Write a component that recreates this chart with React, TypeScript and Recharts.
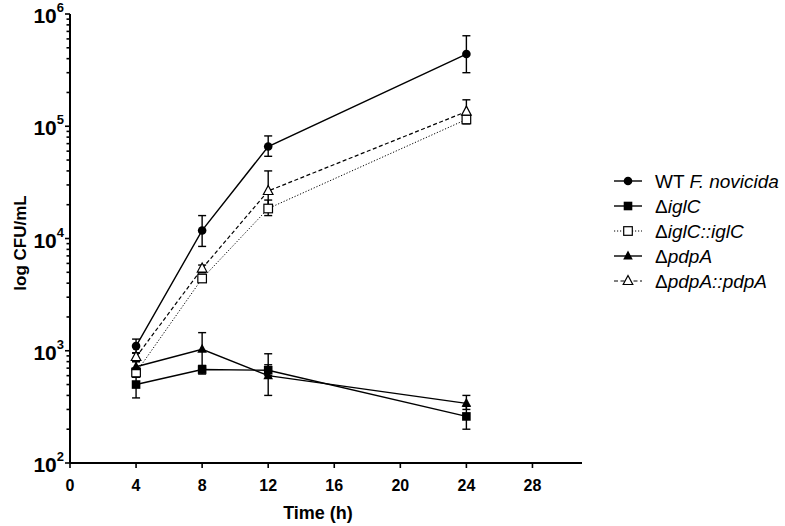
import React from "react";
import { LineChart, Line, XAxis, YAxis, ErrorBar, Legend, Label } from "recharts";

// sampling times (h)
const hours = [4, 8, 12, 24];

// WT F. novicida
const wt = [1100, 11800, 66000, 440000];
const wtLow = [950, 8500, 54000, 300000];
const wtHigh = [1270, 16000, 82000, 640000];

// ΔiglC
const iglC = [500, 680, 670, 260];
const iglCLow = [380, 620, 600, 200];
const iglCHigh = [600, 740, 750, 320];

// ΔiglC::iglC
const iglCComp = [640, 4400, 18500, 115000];
const iglCCompLow = [580, 4100, 16000, 105000];
const iglCCompHigh = [700, 4800, 22000, 125000];

// ΔpdpA
const pdpA = [720, 1030, 600, 340];
const pdpALow = [650, 700, 400, 300];
const pdpAHigh = [800, 1450, 940, 400];

// ΔpdpA::pdpA
const pdpAComp = [880, 5400, 26500, 135000];
const pdpACompLow = [800, 5000, 20000, 115000];
const pdpACompHigh = [960, 5800, 40000, 172000];

const xTicks = [0, 4, 8, 12, 16, 20, 24, 28];
const yMajor = [100, 1000, 10000, 100000, 1000000];
const yTicks = yMajor.flatMap((d, i) =>
  i === yMajor.length - 1 ? [d] : [1, 2, 3, 4, 5, 6, 7, 8, 9].map((m) => d * m)
);

const FONT = "Arial, 'Liberation Sans', Helvetica, sans-serif";
const LEGEND_W = 175;

const err = (v: number[], lo: number[], hi: number[], i: number) => [v[i] - lo[i], hi[i] - v[i]];

const rows = hours.map((h, i) => ({
  h,
  wt: wt[i],
  wtErr: err(wt, wtLow, wtHigh, i),
  iglC: iglC[i],
  iglCErr: err(iglC, iglCLow, iglCHigh, i),
  iglCComp: iglCComp[i],
  iglCCompErr: err(iglCComp, iglCCompLow, iglCCompHigh, i),
  pdpA: pdpA[i],
  pdpAErr: err(pdpA, pdpALow, pdpAHigh, i),
  pdpAComp: pdpAComp[i],
  pdpACompErr: err(pdpAComp, pdpACompLow, pdpACompHigh, i),
}));

type Marker = "circle" | "square" | "openSquare" | "triangle" | "openTriangle";

function markerShape(kind: Marker, cx: number, cy: number, key?: string) {
  switch (kind) {
    case "circle":
      return <circle key={key} cx={cx} cy={cy} r={4.3} fill="#000" />;
    case "square":
      return <rect key={key} x={cx - 4.3} y={cy - 4.3} width={8.6} height={8.6} fill="#000" />;
    case "openSquare":
      return (
        <rect key={key} x={cx - 4.3} y={cy - 4.3} width={8.6} height={8.6} fill="#fff" stroke="#000" strokeWidth={1.2} />
      );
    case "triangle":
      return (
        <path key={key} d={`M${cx},${cy - 5.5}L${cx + 4.8},${cy + 3.5}L${cx - 4.8},${cy + 3.5}Z`} fill="#000" />
      );
    case "openTriangle":
      return (
        <path
          key={key}
          d={`M${cx},${cy - 5.5}L${cx + 4.8},${cy + 3.5}L${cx - 4.8},${cy + 3.5}Z`}
          fill="#fff"
          stroke="#000"
          strokeWidth={1.2}
        />
      );
  }
}

const dotFor = (kind: Marker) => (props: any) =>
  markerShape(kind, props.cx, props.cy, `${kind}-${props.index}`);

function YTick(props: any) {
  const { x, y, payload } = props;
  const v = payload.value as number;
  const lg = Math.log10(v);
  const exp = Math.round(lg);
  const major = Math.abs(lg - exp) < 1e-6;
  return (
    <g>
      <line x1={x - (major ? 5 : 3.5)} x2={x} y1={y} y2={y} stroke="#000" strokeWidth={1.6} />
      {major && (
        <text x={x - 6} y={y + 9} textAnchor="end" fontFamily={FONT} fontWeight="bold" fontSize={21} fill="#000">
          10
          <tspan dy={-11} fontSize={13}>
            {exp}
          </tspan>
        </text>
      )}
    </g>
  );
}

function XTick(props: any) {
  const { x, y, payload } = props;
  return (
    <g>
      <line x1={x} x2={x} y1={y} y2={y + 5} stroke="#000" strokeWidth={1.6} />
      <text x={x} y={y + 28} textAnchor="middle" fontFamily={FONT} fontWeight="bold" fontSize={16} fill="#000">
        {payload.value}
      </text>
    </g>
  );
}

const legendItems: { plain: string; italic: string; marker: Marker; dash?: string }[] = [
  { plain: "WT ", italic: "F. novicida", marker: "circle" },
  { plain: "Δ", italic: "iglC", marker: "square" },
  { plain: "Δ", italic: "iglC::iglC", marker: "openSquare", dash: "1.2 1.8" },
  { plain: "Δ", italic: "pdpA", marker: "triangle" },
  { plain: "Δ", italic: "pdpA::pdpA", marker: "openTriangle", dash: "4 2.5" },
];

function LegendBox() {
  return (
    <svg width={LEGEND_W} height={135} style={{ display: "block" }}>
      {legendItems.map((it, i) => {
        const y = 13 + i * 25;
        return (
          <g key={it.italic}>
            <line
              x1={4}
              x2={32}
              y1={y}
              y2={y}
              stroke="#000"
              strokeWidth={it.dash ? 1 : 1.4}
              strokeDasharray={it.dash}
            />
            {markerShape(it.marker, 18, y)}
            <text x={45} y={y + 6.5} fontFamily={FONT} fontSize={19} fill="#000">
              {it.plain}
              <tspan fontStyle="italic">{it.italic}</tspan>
            </text>
          </g>
        );
      })}
    </svg>
  );
}

const series: { key: string; marker: Marker; dash?: string; width: number }[] = [
  { key: "iglCComp", marker: "openSquare", dash: "1.2 1.8", width: 1 },
  { key: "pdpAComp", marker: "openTriangle", dash: "4 2.5", width: 1.2 },
  { key: "pdpA", marker: "triangle", width: 1.4 },
  { key: "iglC", marker: "square", width: 1.4 },
  { key: "wt", marker: "circle", width: 1.4 },
];

export default function App() {
  return (
    <div style={{ position: "absolute", left: 0, top: 0, width: 785, height: 526, background: "#fff" }}>
      <LineChart width={785} height={526} data={rows} margin={{ top: 14, right: 203 - LEGEND_W, bottom: 0, left: 0 }}>
        <XAxis
          dataKey="h"
          type="number"
          domain={[0, 31]}
          ticks={xTicks}
          tick={<XTick />}
          tickLine={false}
          tickSize={0}
          tickMargin={0}
          height={63}
          axisLine={{ stroke: "#000", strokeWidth: 2 }}
          allowDataOverflow
        >
          <Label
            content={() => (
              <text x={318} y={519} textAnchor="middle" fontFamily={FONT} fontWeight="bold" fontSize={18} fill="#000">
                Time (h)
              </text>
            )}
          />
        </XAxis>
        <YAxis
          type="number"
          scale="log"
          domain={[100, 1000000]}
          ticks={yTicks}
          interval={0}
          tick={<YTick />}
          tickLine={false}
          tickSize={0}
          tickMargin={0}
          width={70}
          axisLine={{ stroke: "#000", strokeWidth: 2 }}
          allowDataOverflow
        >
          <Label
            content={() => (
              <text
                x={0}
                y={0}
                transform="translate(26,243) rotate(-90)"
                textAnchor="middle"
                fontFamily={FONT}
                fontWeight="bold"
                fontSize={17}
                fill="#000"
              >
                log CFU/mL
              </text>
            )}
          />
        </YAxis>
        <Legend
          layout="vertical"
          align="right"
          verticalAlign="top"
          wrapperStyle={{ left: 610, top: 168, width: LEGEND_W }}
          content={() => <LegendBox />}
        />
        {series.map((s) => (
          <Line
            key={s.key}
            dataKey={s.key}
            stroke="#000"
            strokeWidth={s.width}
            strokeDasharray={s.dash}
            dot={dotFor(s.marker)}
            activeDot={false}
            isAnimationActive={false}
            legendType="none"
          >
            <ErrorBar
              dataKey={`${s.key}Err`}
              width={4}
              stroke="#000"
              strokeWidth={1.4}
              direction="y"
              isAnimationActive={false}
            />
          </Line>
        ))}
      </LineChart>
    </div>
  );
}
